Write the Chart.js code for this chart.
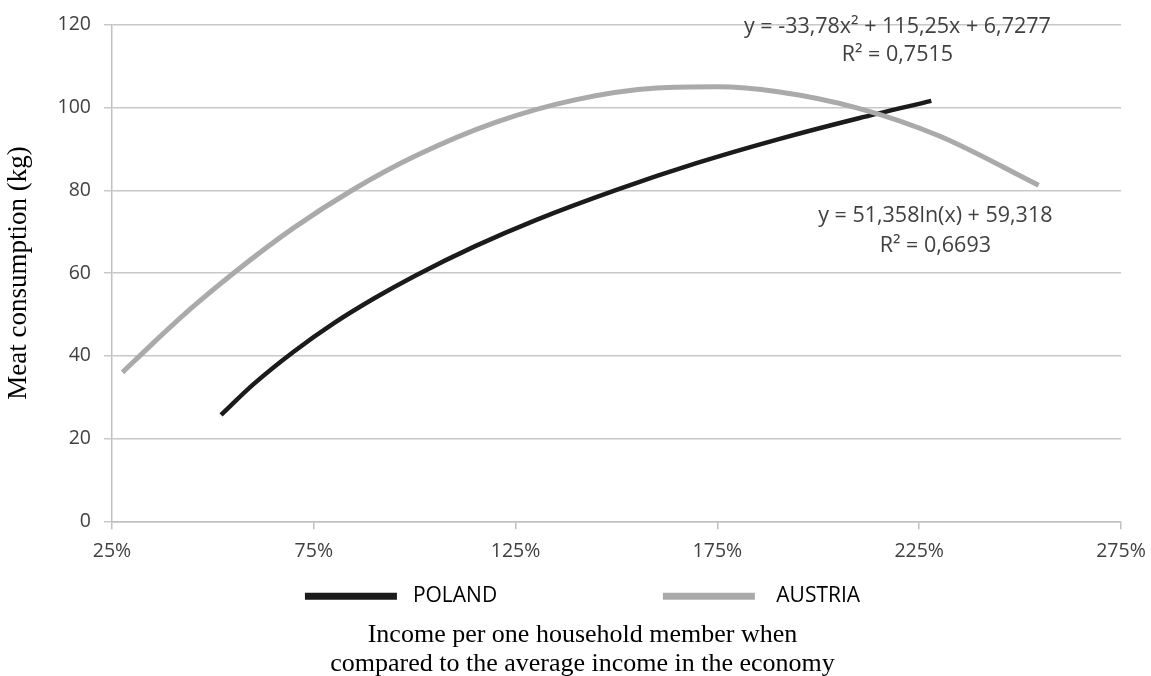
<!DOCTYPE html>
<html>
<head>
<meta charset="utf-8">
<script src="https://cdn.jsdelivr.net/npm/chart.js@4.4.1/dist/chart.umd.min.js"></script>
<style>
  html, body { margin: 0; padding: 0; background: #ffffff; }
  #wrap { width: 1151px; height: 676px; position: relative; }
</style>
</head>
<body>
<div id="wrap"><canvas id="chart"></canvas></div>
<script>
// Axis ticks
const xTicks = [25, 75, 125, 175, 225, 275];   // income, % of the national average
const yTicks = [0, 20, 40, 60, 80, 100, 120];  // meat consumption, kg

// Trend curve for Poland (logarithmic fit)
const polandIncome = [52, 60, 70, 80, 90, 100, 115, 130, 150, 170, 190, 210, 228];
const polandMeat   = [25.7, 33.1, 41.0, 47.9, 53.9, 59.3, 66.5, 72.8, 80.1, 86.6, 92.3, 97.4, 101.6];

// Trend curve for Austria (polynomial fit)
const austriaIncome = [27.6, 35, 45, 55, 70, 85, 100, 120, 140, 160, 175, 190, 210, 230, 254.6];
const austriaMeat   = [36.0, 42.9, 51.8, 59.9, 70.9, 80.3, 88.2, 96.4, 101.9, 104.7, 105.0, 103.8, 99.8, 93.1, 81.2];

const seriesNames = ['POLAND', 'AUSTRIA'];
const equations = [
  ['y = -33,78x² + 115,25x + 6,7277', 'R² = 0,7515'],
  ['y = 51,358ln(x) + 59,318', 'R² = 0,6693']
];
const xTitleLines = ['Income per one household member when', 'compared to the average income in the economy'];
const yTitle = 'Meat consumption (kg)';

// Where each equation block sits, in axis units
const equationAnchors = [
  { x: 219.6, y: [119.5, 112.7] },
  { x: 229.0, y: [73.8, 66.6] }
];

const toPoints = (xs, ys) => xs.map((x, i) => ({ x: x, y: ys[i] }));

const equationPlugin = {
  id: 'equations',
  afterDatasetsDraw(chart) {
    const { ctx, scales } = chart;
    ctx.save();
    ctx.font = "21.5px 'Open Sans'";
    ctx.fillStyle = '#404040';
    ctx.textAlign = 'center';
    ctx.textBaseline = 'middle';
    equations.forEach((lines, i) => {
      const a = equationAnchors[i];
      lines.forEach((t, j) => {
        ctx.fillText(t, scales.x.getPixelForValue(a.x), scales.y.getPixelForValue(a.y[j]));
      });
    });
    ctx.restore();
  }
};

Chart.defaults.font.family = "'Open Sans', sans-serif";

new Chart(document.getElementById('chart'), {
  type: 'line',
  data: {
    datasets: [
      {
        label: seriesNames[0],
        data: toPoints(polandIncome, polandMeat),
        borderColor: '#1b1b1b',
        backgroundColor: '#1b1b1b',
        borderWidth: 4.5,
        pointRadius: 0,
        cubicInterpolationMode: 'monotone',
        order: 1
      },
      {
        label: seriesNames[1],
        data: toPoints(austriaIncome, austriaMeat),
        borderColor: '#aaaaaa',
        backgroundColor: '#aaaaaa',
        borderWidth: 5,
        pointRadius: 0,
        cubicInterpolationMode: 'monotone',
        order: 0
      }
    ]
  },
  options: {
    responsive: true,
    maintainAspectRatio: false,
    animation: false,
    devicePixelRatio: 1,
    layout: { padding: { top: 13, right: -14, left: 0, bottom: -3 } },
    scales: {
      x: {
        type: 'linear',
        min: 25,
        max: 275,
        afterBuildTicks: s => { s.ticks = xTicks.map(v => ({ value: v })); },
        afterFit: s => { s.paddingRight = 30; },
        ticks: {
          callback: v => v + '%',
          color: '#404040',
          font: { size: 19.5 },
          padding: 10,
          maxRotation: 0,
          autoSkip: false
        },
        grid: { drawOnChartArea: false, drawTicks: true, tickLength: 8, color: '#c0c0c0', lineWidth: 1.5 },
        border: { display: true, color: '#c0c0c0', width: 1.5 }
      },
      y: {
        min: 0,
        max: 120,
        afterBuildTicks: s => { s.ticks = yTicks.map(v => ({ value: v })); },
        afterFit: s => { s.width = 112; },
        ticks: { color: '#404040', font: { size: 19.5 }, padding: 13 },
        grid: { color: '#c8c8c8', lineWidth: 1.5, tickLength: 8 },
        border: { display: true, color: '#c0c0c0', width: 1.5 },
        title: {
          display: true,
          text: yTitle,
          color: '#000000',
          font: { family: "'Liberation Serif', serif", size: 27 },
          padding: { top: 3, bottom: 0 }
        }
      }
    },
    plugins: {
      legend: {
        position: 'bottom',
        labels: {
          boxWidth: 92,
          boxHeight: 7,
          padding: 13,
          color: '#505050',
          font: { size: 21 },
          generateLabels: chart => chart.data.datasets.map((ds, i) => ({
            text: (i === 0 ? ' ' + ds.label + ' '.repeat(28) : '  ' + ds.label),
            fillStyle: ds.borderColor,
            strokeStyle: ds.borderColor,
            lineWidth: 0,
            hidden: false,
            datasetIndex: i
          }))
        }
      },
      title: {
        display: true,
        position: 'bottom',
        text: xTitleLines,
        color: '#000000',
        font: { family: "'Liberation Serif', serif", size: 26, weight: 'normal', lineHeight: 1.12 },
        padding: { top: 4, bottom: 0 }
      },
      tooltip: { enabled: false }
    }
  },
  plugins: [equationPlugin]
});
</script>
</body>
</html>
